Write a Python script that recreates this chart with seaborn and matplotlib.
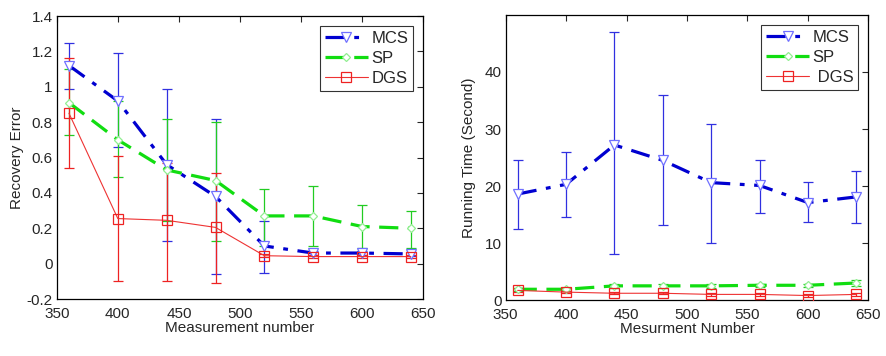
import numpy as np
import pandas as pd
import matplotlib
matplotlib.use("Agg")
import matplotlib.pyplot as plt
import seaborn as sns
from matplotlib.ticker import FuncFormatter

# ---------------- data ----------------
meas = [360, 400, 440, 480, 520, 560, 600, 640]

err_mcs = [1.12, 0.92, 0.56, 0.38, 0.10, 0.06, 0.06, 0.055]
err_mcs_lo = [0.99, 0.66, 0.13, -0.06, -0.05, 0.05, 0.05, 0.045]
err_mcs_hi = [1.25, 1.19, 0.99, 0.82, 0.24, 0.07, 0.07, 0.065]

err_sp = [0.91, 0.70, 0.53, 0.47, 0.27, 0.27, 0.21, 0.20]
err_sp_lo = [0.73, 0.49, 0.24, 0.13, 0.10, 0.10, 0.09, 0.09]
err_sp_hi = [1.10, 0.92, 0.82, 0.80, 0.42, 0.44, 0.33, 0.30]

err_dgs = [0.85, 0.255, 0.245, 0.205, 0.045, 0.04, 0.04, 0.04]
err_dgs_lo = [0.54, -0.10, -0.10, -0.11, 0.035, 0.03, 0.03, 0.03]
err_dgs_hi = [1.16, 0.61, 0.57, 0.51, 0.055, 0.05, 0.05, 0.05]

time_mcs = [18.6, 20.3, 27.2, 24.5, 20.6, 20.1, 17.1, 18.1]
time_mcs_lo = [12.5, 14.6, 8.0, 13.2, 10.1, 15.3, 13.7, 13.6]
time_mcs_hi = [24.6, 26.0, 47.0, 36.0, 30.8, 24.6, 20.7, 22.7]

time_sp = [1.9, 1.9, 2.5, 2.5, 2.5, 2.6, 2.6, 3.0]
time_sp_lo = [1.6, 1.6, 2.1, 2.1, 2.1, 2.3, 2.3, 2.5]
time_sp_hi = [2.2, 2.2, 2.9, 2.9, 2.9, 2.9, 2.9, 3.5]

time_dgs = [1.7, 1.4, 1.2, 1.2, 1.0, 1.0, 0.8, 1.0]
time_dgs_lo = [1.4, 1.2, 1.0, 1.0, 0.8, 0.8, 0.5, 0.8]
time_dgs_hi = [2.0, 1.6, 1.4, 1.4, 1.2, 1.2, 1.1, 1.2]

methods = ["MCS", "SP", "DGS"]

# ---------------- style ----------------
sns.set_style("white")
plt.rcParams['font.family'] = ['Liberation Sans', 'DejaVu Sans']
plt.rcParams['font.size'] = 10.5

styles = {
    "MCS": dict(color="#0000d0", ls=(0, (6, 3, 1.5, 3)), lw=2.3, marker="v",
                mfc="white", mec="#7070ff", ms=6.5, ecolor="#3030e0"),
    "SP": dict(color="#11dd11", ls=(0, (6, 3)), lw=2.3, marker="D",
               mfc="white", mec="#90ee90", ms=4.5, ecolor="#22cc22"),
    "DGS": dict(color="#ee3333", ls="-", lw=0.8, marker="s",
                mfc="none", mec="#ee2222", ms=6.5, ecolor="#ee2222"),
}

fig = plt.figure(figsize=(8.87, 3.56), dpi=100)
ax1 = fig.add_axes([0.064, 0.160, 0.413, 0.795])
ax2 = fig.add_axes([0.570, 0.157, 0.409, 0.801])


def draw(ax, series, labels):
    for m, (y, lo, hi), lab in zip(methods, series, labels):
        st = styles[m]
        df = pd.DataFrame({"x": meas, "y": y})
        y = np.array(y)
        ax.errorbar(meas, y, yerr=[y - np.array(lo), np.array(hi) - y], fmt="none",
                    ecolor=st["ecolor"], elinewidth=0.9, capsize=3.5, capthick=0.9, zorder=2)
        sns.lineplot(data=df, x="x", y="y", ax=ax, color=st["color"], lw=st["lw"],
                     marker=st["marker"], markersize=st["ms"], markerfacecolor=st["mfc"],
                     markeredgecolor=st["mec"], markeredgewidth=0.9, label=lab,
                     zorder=3)
        ax.lines[-1].set_linestyle(st["ls"])
    ax.set_xlim(350, 650)
    ax.set_xticks([350, 400, 450, 500, 550, 600, 650])
    ax.tick_params(direction="in", top=True, right=True, length=4, width=0.8,
                   labelsize=11, pad=3)
    ax.tick_params(axis="x", pad=6)
    for s in ax.spines.values():
        s.set_linewidth(0.9)
        s.set_color("black")
    leg = ax.legend(loc="upper right", frameon=True, fancybox=False, fontsize=12,
                    handlelength=2.6, borderpad=0.3, labelspacing=0.3,
                    handletextpad=0.2, borderaxespad=0.6)
    leg.get_frame().set_edgecolor("black")
    leg.get_frame().set_linewidth(0.8)


draw(ax1, [(err_mcs, err_mcs_lo, err_mcs_hi), (err_sp, err_sp_lo, err_sp_hi),
           (err_dgs, err_dgs_lo, err_dgs_hi)], ["MCS", "SP", "DGS"])
ax1.set_ylim(-0.2, 1.4)
ax1.set_yticks(np.arange(-0.2, 1.41, 0.2))
ax1.yaxis.set_major_formatter(FuncFormatter(lambda v, p: "%g" % round(v, 2)))
ax1.set_xlabel("Measurement number", fontsize=11, labelpad=0)
ax1.set_ylabel("Recovery Error", fontsize=11, labelpad=2)

draw(ax2, [(time_mcs, time_mcs_lo, time_mcs_hi), (time_sp, time_sp_lo, time_sp_hi),
           (time_dgs, time_dgs_lo, time_dgs_hi)], ["MCS", "SP", " DGS"])
ax2.set_ylim(0, 50)
ax2.set_yticks([0, 10, 20, 30, 40])
ax2.set_xlabel("Mesurment Number", fontsize=11, labelpad=0)
ax2.set_ylabel("Running Time (Second)", fontsize=11, labelpad=6)

fig.savefig("out.png", dpi=100)
